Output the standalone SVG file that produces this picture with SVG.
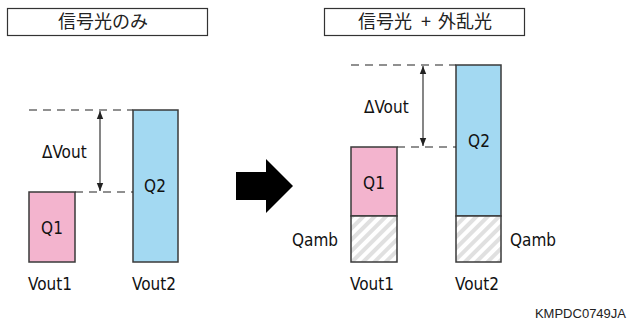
<svg xmlns="http://www.w3.org/2000/svg" width="629" height="330" viewBox="0 0 629 330">
  <style>
    .title { fill: #fff; stroke: #333; stroke-width: 1.2; }
    .ttl { font-family: "Noto Sans CJK JP", "Noto Sans", sans-serif; font-size: 18px; fill: #222; }
    .lbl { font-family: "DejaVu Sans Condensed", "DejaVu Sans", sans-serif; font-size: 17px; fill: #111; }
    .mid { text-anchor: middle; }
    .bar { stroke: #3a3a3a; stroke-width: 1.5; }
    .q1 { fill: #F3B4CE; }
    .q2 { fill: #A3D9F2; }
    .amb { fill: url(#hatch); }
    .dash { stroke: #222; stroke-width: 1.1; stroke-dasharray: 8 6; fill: none; }
    .dim { stroke: #222; stroke-width: 1.1; fill: none; marker-start: url(#ah); marker-end: url(#ah); }
    .code { font-family: "Liberation Sans", Arial, sans-serif; font-size: 13px; fill: #222; text-anchor: end; }
  </style>
  <defs>
    <pattern id="hatch" width="8" height="8" patternUnits="userSpaceOnUse" patternTransform="rotate(45)">
      <rect width="8" height="8" fill="#fff"/>
      <rect width="4" height="8" fill="#E0E0E0"/>
    </pattern>
    <marker id="ah" viewBox="0 0 10 10" refX="10" refY="5" markerWidth="8" markerHeight="8" markerUnits="userSpaceOnUse" orient="auto-start-reverse">
      <path d="M0,1 L10,5 L0,9 Z" fill="#222"/>
    </marker>
  </defs>

  <!-- headers -->
  <g id="header-left">
    <rect class="title" x="7.5" y="8.5" width="200" height="27"/>
    <text class="ttl" x="58" y="28">信号光のみ</text>
  </g>
  <g id="header-right">
    <rect class="title" x="324.5" y="8.5" width="200" height="27"/>
    <text class="ttl" x="358" y="28">信号光</text>
    <text class="ttl mid" x="426" y="28">+</text>
    <text class="ttl" x="438" y="28">外乱光</text>
  </g>

  <!-- signal only -->
  <g id="left-q1">
    <rect class="bar q1" x="29" y="192" width="46" height="70"/>
    <text class="lbl mid" x="52" y="234">Q1</text>
    <text class="lbl" x="28" y="290">Vout1</text>
  </g>
  <g id="left-q2">
    <rect class="bar q2" x="133" y="110" width="45" height="152"/>
    <text class="lbl mid" x="155" y="192">Q2</text>
    <text class="lbl" x="132" y="290">Vout2</text>
  </g>

  <!-- transition arrow -->
  <g id="arrow">
    <path d="M236,172 L266,172 L266,159 L293,186 L266,213 L266,200 L236,200 Z" fill="#000"/>
  </g>

  <!-- signal + ambient -->
  <g id="right-q1">
    <rect class="bar q1" x="351" y="147" width="46" height="69"/>
    <rect class="bar amb" x="351" y="216" width="46" height="46"/>
    <text class="lbl mid" x="374" y="189">Q1</text>
    <text class="lbl" x="292" y="246">Qamb</text>
    <text class="lbl" x="350" y="290">Vout1</text>
  </g>
  <g id="right-q2">
    <rect class="bar q2" x="456" y="65" width="45" height="151"/>
    <rect class="bar amb" x="456" y="216" width="45" height="46"/>
    <text class="lbl mid" x="479" y="147">Q2</text>
    <text class="lbl" x="510" y="246">Qamb</text>
    <text class="lbl" x="455" y="290">Vout2</text>
  </g>

  <!-- dimension lines -->
  <g id="connectors">
    <path class="dash" d="M29,110 H133 M75,192 H133"/>
    <path class="dim" d="M100,111 V191"/>
    <path class="dash" d="M351,65 H456 M397,147 H456"/>
    <path class="dim" d="M423,66 V146"/>
  </g>
  <g id="delta-labels">
    <text class="lbl" x="42" y="158">ΔVout</text>
    <text class="lbl" x="364" y="113">ΔVout</text>
  </g>

  <text class="code" x="626" y="318">KMPDC0749JA</text>
</svg>
